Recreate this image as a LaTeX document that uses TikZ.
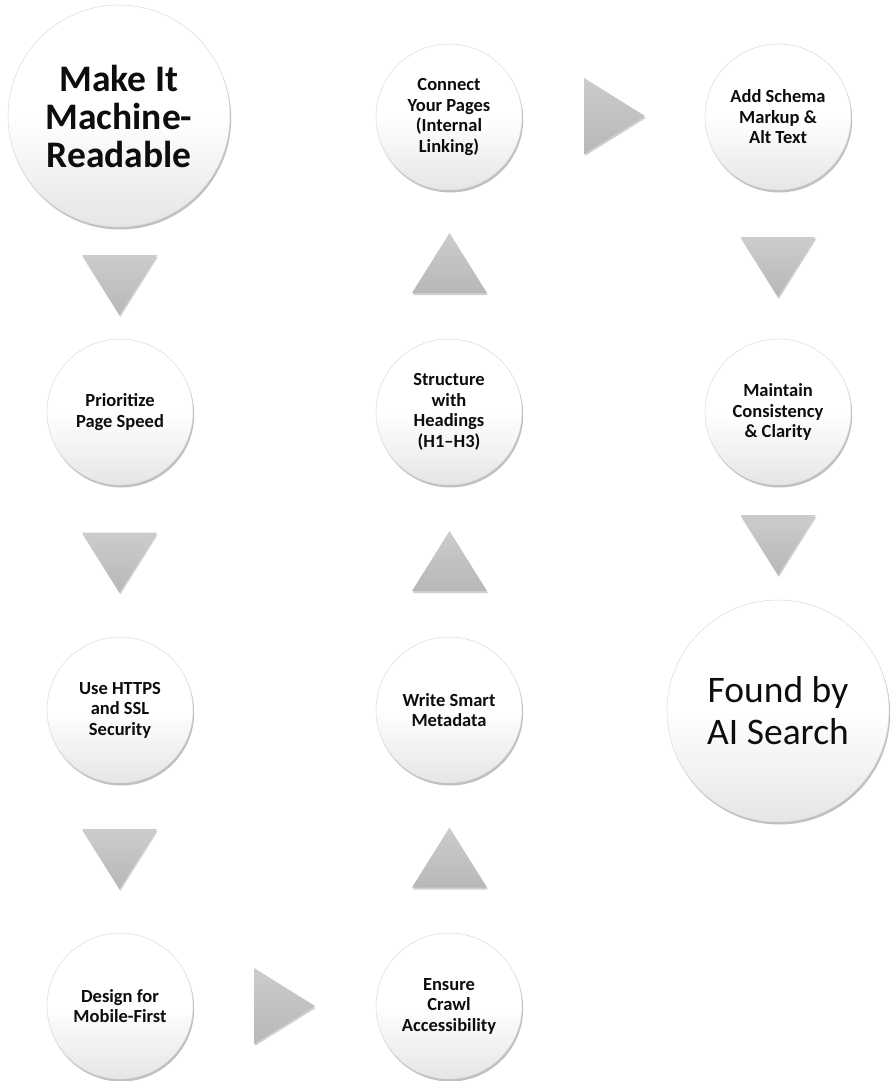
\documentclass[tikz,border=0pt]{standalone}
\usepackage{fontspec}
\setmainfont{Carlito}
\usetikzlibrary{shadows}
\tikzset{
  bubble/.style={circle, draw=gray!28, line width=0.5pt,
    top color=white, bottom color=gray!20, middle color=white,
    drop shadow={shadow xshift=1.2pt, shadow yshift=-2.5pt, opacity=0.35, fill=black!70},
    inner sep=0pt, align=center, text=black!95,
    font=\bfseries\fontsize{18.5}{20.5}\selectfont},
  smallbub/.style={bubble, minimum size=146pt},
  bigbub/.style={bubble, minimum size=222pt, font=\bfseries\fontsize{37.5}{38}\selectfont},
  finalbub/.style={bubble, minimum size=222pt, font=\fontsize{37.5}{42}\selectfont},
  tri/.style={top color=gray!40, bottom color=gray!56, draw=none,
    drop shadow={shadow xshift=0.8pt, shadow yshift=-2pt, opacity=0.3, fill=black!60}}
}
\newcommand\tridown[1]{\path[tri] (#1) ++(-37.5,-30) -- ++(75,0) -- ++(-37.5,60) -- cycle;}
\newcommand\triup[1]{\path[tri] (#1) ++(-37.5,30) -- ++(75,0) -- ++(-37.5,-60) -- cycle;}
\newcommand\triright[1]{\path[tri] (#1) ++(-30,-38) -- ++(0,76) -- ++(61,-38) -- cycle;}
\begin{document}
\begin{tikzpicture}[x=1pt,y=-1pt]
\useasboundingbox[fill=white] (0,0) rectangle (892,1081);
% column 1
\node[bigbub] (mr) at (119,116) {Make It\\Machine-\\Readable};
\node[smallbub] (speed) at (120,412) {Prioritize\\Page Speed};
\node[smallbub] (https) at (120,710) {Use HTTPS\\and SSL\\Security};
\node[smallbub] (mobile) at (120,1006) {Design for\\Mobile-First};
% column 2
\node[smallbub] (link) at (449,117) {Connect\\Your Pages\\(Internal\\Linking)};
\node[smallbub] (head) at (449,412) {Structure\\with\\Headings\\(H1–H3)};
\node[smallbub] (meta) at (449,710) {Write Smart\\Metadata};
\node[smallbub] (crawl) at (449,1006) {Ensure\\Crawl\\Accessibility};
% column 3
\node[smallbub] (schema) at (778,117) {Add Schema\\Markup \&\\Alt Text};
\node[smallbub] (clar) at (778,412) {Maintain\\Consistency\\\& Clarity};
\node[finalbub] (ai) at (778,711) {Found by\\AI Search};
% arrow triangles
\coordinate (d1) at (119.5,285);
\coordinate (d2) at (119.5,562.5);
\coordinate (d3) at (119.5,859);
\coordinate (u1) at (449.5,857.5);
\coordinate (u2) at (449.5,561);
\coordinate (u3) at (449.5,263);
\coordinate (d4) at (778,267);
\coordinate (d5) at (778,545);
\coordinate (r1) at (284,1006);
\coordinate (r2) at (614,116);
\tridown{d1}
\tridown{d2}
\tridown{d3}
\triright{r1}
\triup{u1}
\triup{u2}
\triup{u3}
\triright{r2}
\tridown{d4}
\tridown{d5}
\end{tikzpicture}
\end{document}
